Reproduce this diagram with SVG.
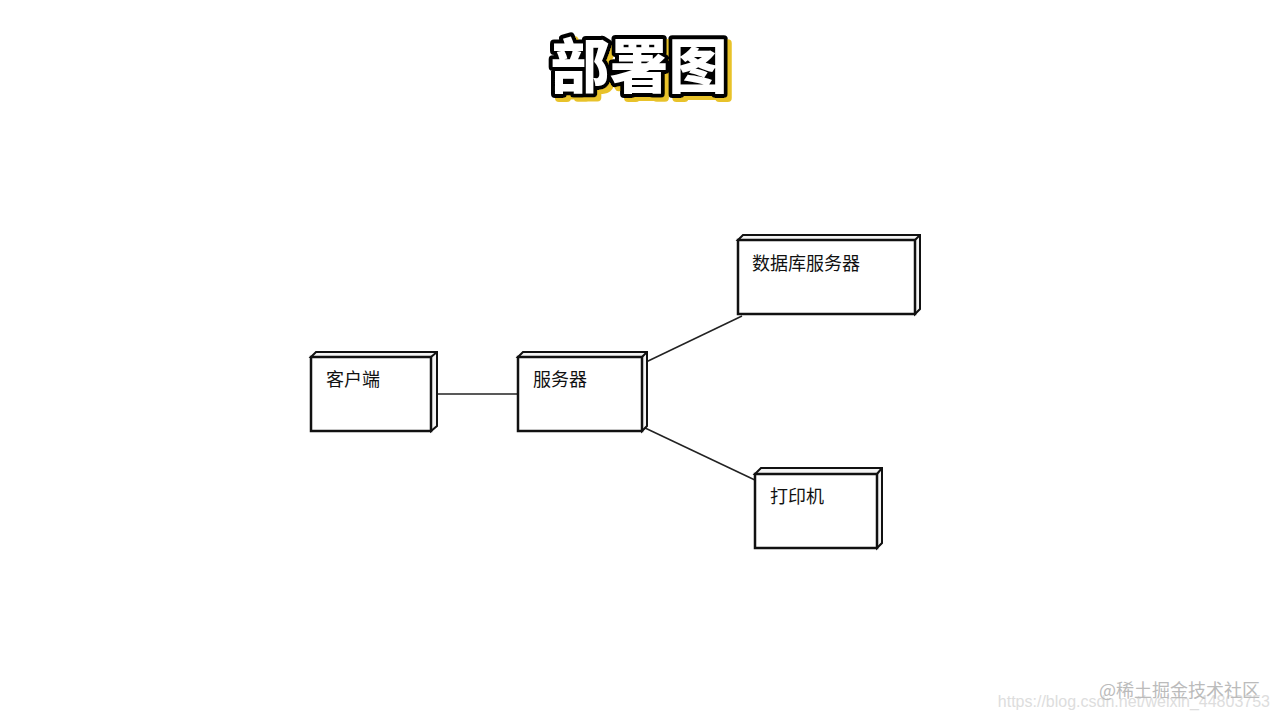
<svg xmlns="http://www.w3.org/2000/svg" width="1280" height="720" viewBox="0 0 1280 720">
<defs>
<filter id="yshadow" x="-10%" y="-20%" width="130%" height="150%">
<feOffset in="SourceAlpha" dx="4" dy="4" result="off"/>
<feFlood flood-color="#e8c22a"/>
<feComposite in2="off" operator="in" result="sh"/>
<feMerge><feMergeNode in="sh"/><feMergeNode in="SourceGraphic"/></feMerge>
</filter>
</defs>
<style>
.box{fill:#fff;stroke:#111;stroke-width:2.5}
.side{fill:#f4f4f4;stroke:#111;stroke-width:2}
.lbl{font-family:"Noto Sans CJK SC","Noto Sans",sans-serif;font-size:18px;fill:#111}
.conn{stroke:#222;stroke-width:1.5;fill:none}
.title{font-family:"Noto Sans CJK SC",sans-serif;font-size:59px;font-weight:900}
</style>
<rect width="1280" height="720" fill="#fff"/>
<g id="title" filter="url(#yshadow)">
<text x="639" y="88" text-anchor="middle" class="title" fill="#fff" stroke="#000" stroke-width="8" stroke-linejoin="round" paint-order="stroke">部署图</text>
</g>
<g id="connectors">
<line class="conn" x1="433" y1="394" x2="518" y2="394"/>
<line class="conn" x1="646" y1="362" x2="742" y2="316"/>
<line class="conn" x1="643" y1="427" x2="757" y2="481"/>
</g>
<g id="client">
<polygon class="side" points="311,357 316,352 437,352 437,426 431,431 431,357"/>
<line x1="431" y1="357" x2="437" y2="352" stroke="#111" stroke-width="2"/>
<rect class="box" x="311" y="357" width="120" height="74"/>
<text class="lbl" x="326" y="386">客户端</text>
</g>
<g id="server">
<polygon class="side" points="518,357 523,352 647,352 647,426 642,431 642,357"/>
<line x1="642" y1="357" x2="647" y2="352" stroke="#111" stroke-width="2"/>
<rect class="box" x="518" y="357" width="124" height="74"/>
<text class="lbl" x="533" y="386">服务器</text>
</g>
<g id="db">
<polygon class="side" points="738,240 743,235 920,235 920,309 915,314 915,240"/>
<line x1="915" y1="240" x2="920" y2="235" stroke="#111" stroke-width="2"/>
<rect class="box" x="738" y="240" width="177" height="74"/>
<text class="lbl" x="752" y="270">数据库服务器</text>
</g>
<g id="printer">
<polygon class="side" points="755,474 761,468 882,468 882,543 877,548 877,474"/>
<line x1="877" y1="474" x2="882" y2="468" stroke="#111" stroke-width="2"/>
<rect class="box" x="755" y="474" width="122" height="74"/>
<text class="lbl" x="770" y="503">打印机</text>
</g>
<g id="watermark" font-family="Liberation Sans,Noto Sans CJK SC,sans-serif">
<text x="1270" y="707" text-anchor="end" font-size="16" fill="#ddd">https://blog.csdn.net/weixin_44803753</text>
<text x="1260" y="697" text-anchor="end" font-size="18" fill="#bbb" font-family="Noto Sans CJK SC,sans-serif">@稀土掘金技术社区</text>
</g>
</svg>
